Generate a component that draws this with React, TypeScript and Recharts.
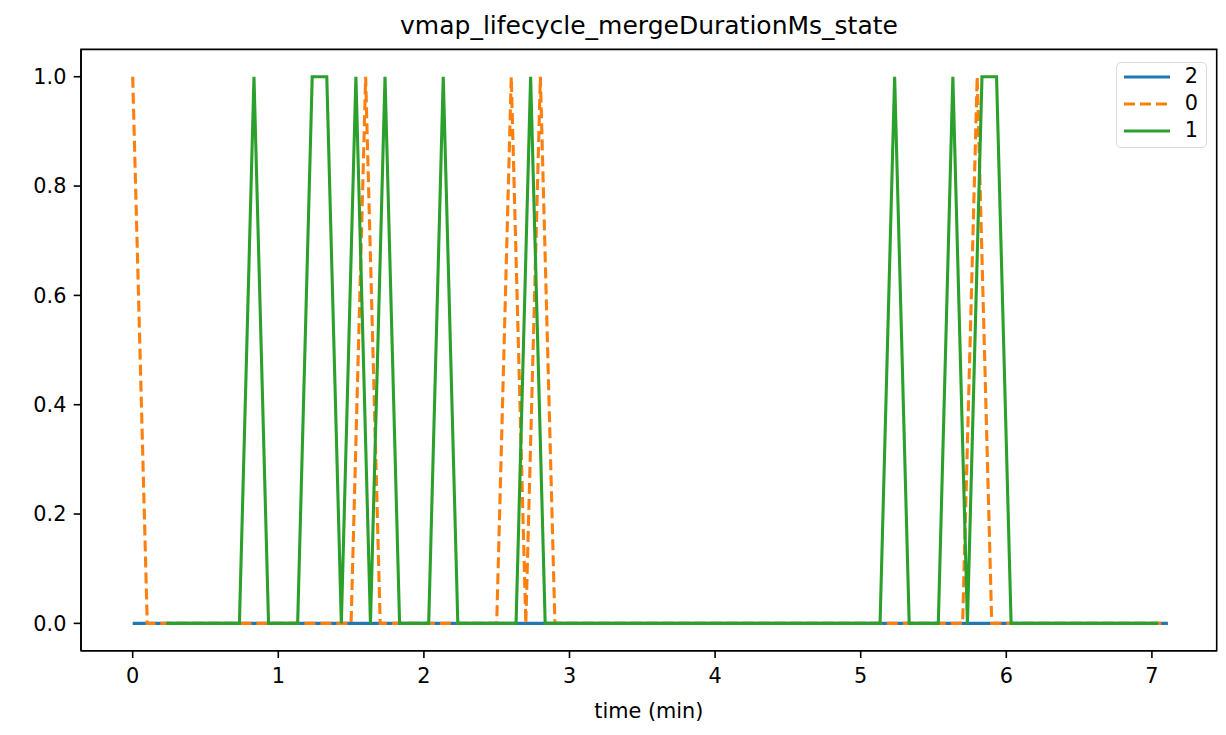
import React from "react";
import { Legend, Line, LineChart, ReferenceArea, XAxis, YAxis } from "recharts";

// series "2" (blue, flat)
const blueTimes = [0, 7.11];
const blueValues = [0, 0];

// series "0" (orange, dashed)
const orangeTimes = [0, 0.1, 1.5, 1.6, 1.7, 2.5, 2.6, 2.7, 2.8, 2.9, 5.7, 5.8, 5.9, 7.1];
const orangeValues = [1, 0, 0, 1, 0, 0, 1, 0, 1, 0, 0, 1, 0, 0];

// series "1" (green)
const greenTimes = [
  0.23, 0.733, 0.833, 0.933, 1.133, 1.233, 1.333, 1.433, 1.533, 1.633, 1.733, 1.833,
  2.033, 2.133, 2.233, 2.633, 2.733, 2.833, 5.133, 5.233, 5.333, 5.533, 5.633, 5.733,
  5.833, 5.933, 6.033, 7.043,
];
const greenValues = [
  0, 0, 1, 0, 0, 1, 1, 0, 1, 0, 1, 0,
  0, 1, 0, 0, 1, 0, 0, 1, 0, 0, 1, 0,
  1, 1, 0, 0,
];

const xTicks = [0, 1, 2, 3, 4, 5, 6, 7];
const yTicks = [0, 0.2, 0.4, 0.6, 0.8, 1.0];
const xDomain = [-0.355, 7.445];
const yDomain = [-0.05, 1.05];

const zip = (ts: number[], vs: number[]) => ts.map((t, i) => ({ t, v: vs[i] }));

const series = [
  { name: "2", color: "#1f77b4", dash: undefined, data: zip(blueTimes, blueValues) },
  { name: "0", color: "#ff7f0e", dash: "11 5", data: zip(orangeTimes, orangeValues) },
  { name: "1", color: "#2ca02c", dash: undefined, data: zip(greenTimes, greenValues) },
];

const FONT = "DejaVu Sans, sans-serif";
const tickStyle = { fill: "#000", fontSize: 20.8, fontFamily: FONT };

const renderLegend = () => (
  <div
    style={{
      border: "1.6px solid #d9d9d9",
      borderRadius: 5,
      background: "rgba(255,255,255,0.8)",
      padding: "0 8px 3px 6px",
      fontFamily: FONT,
      fontSize: 20.8,
      boxSizing: "border-box",
      width: 91,
    }}
  >
    {series.map((s) => (
      <div key={s.name} style={{ display: "flex", alignItems: "center", height: 27 }}>
        <svg width={48} height={10} style={{ marginRight: 14 }}>
          <line
            x1={1}
            y1={5}
            x2={47}
            y2={5}
            stroke={s.color}
            strokeWidth={3.1}
            strokeDasharray={s.dash}
          />
        </svg>
        <span style={{ lineHeight: "27px" }}>{s.name}</span>
      </div>
    ))}
  </div>
);

export default function App() {
  return (
    <div
      style={{
        position: "absolute",
        left: 0,
        top: 0,
        width: 1226,
        height: 735,
        background: "#fff",
      }}
    >
      <div
        style={{
          position: "absolute",
          left: 81,
          width: 1136,
          top: 11,
          textAlign: "center",
          fontFamily: FONT,
          fontSize: 25,
          lineHeight: "30px",
        }}
      >
        vmap_lifecycle_mergeDurationMs_state
      </div>
      <LineChart
        width={1226}
        height={735}
        margin={{ top: 49.4, right: 9.3, left: 9, bottom: 44.3 }}
      >
        <XAxis
          dataKey="t"
          type="number"
          domain={xDomain}
          allowDataOverflow
          ticks={xTicks}
          interval={0}
          height={40}
          tick={tickStyle}
          tickSize={7.3}
          tickMargin={10}
          axisLine={{ stroke: "#000", strokeWidth: 1.6 }}
          tickLine={{ stroke: "#000", strokeWidth: 1.6 }}
          label={{
            value: "time (min)",
            position: "insideBottom",
            offset: -27,
            style: { fill: "#000", fontSize: 20.8, fontFamily: FONT },
          }}
        />
        <YAxis
          type="number"
          domain={yDomain}
          allowDataOverflow
          ticks={yTicks}
          interval={0}
          width={72}
          tick={tickStyle}
          tickSize={7.3}
          tickMargin={7.3}
          tickFormatter={(v: number) => v.toFixed(1)}
          axisLine={{ stroke: "#000", strokeWidth: 1.6 }}
          tickLine={{ stroke: "#000", strokeWidth: 1.6 }}
        />
        {/* frame: top and right spines */}
        <ReferenceArea
          x1={xDomain[0]}
          x2={xDomain[1]}
          y1={yDomain[0]}
          y2={yDomain[1]}
          fill="none"
          fillOpacity={0}
          stroke="#000"
          strokeWidth={1.6}
          ifOverflow="visible"
        />
        <Legend
          layout="horizontal"
          verticalAlign="middle"
          align="center"
          content={renderLegend}
          wrapperStyle={{ position: "absolute", left: 1116, top: 62, width: 91, height: "auto" }}
        />
        {series.map((s) => (
          <Line
            key={s.name}
            data={s.data}
            dataKey="v"
            name={s.name}
            type="linear"
            stroke={s.color}
            strokeWidth={3.1}
            strokeDasharray={s.dash}
            dot={false}
            activeDot={false}
            isAnimationActive={false}
          />
        ))}
      </LineChart>
    </div>
  );
}
